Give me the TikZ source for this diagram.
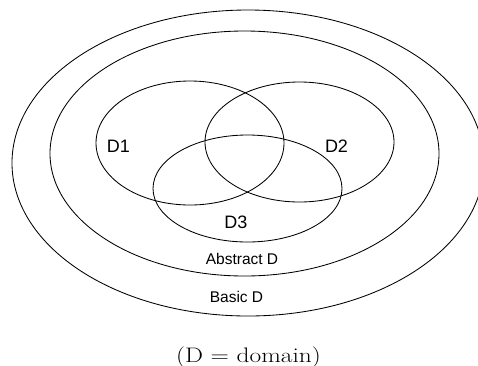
\documentclass[tikz,border=0pt]{standalone}
\usepackage{fontspec}
\newfontfamily\arialf{Liberation Sans}
\usetikzlibrary{shapes.geometric}
\begin{document}
\begin{tikzpicture}[x=1pt,y=-1pt,
  ring/.style={draw, ellipse, line width=0.85pt, inner sep=0pt},
  biglabel/.style={anchor=base, inner sep=0pt, font=\arialf\fontsize{18}{20}\selectfont},
  smalllabel/.style={anchor=base, inner sep=0pt, font=\arialf\fontsize{15.5}{18}\selectfont}]
\useasboundingbox (0,0) rectangle (478,365);
\node[ring, minimum width=472pt, minimum height=306pt] (basic) at (248,163) {};
\node[ring, minimum width=389pt, minimum height=245pt] (abstract) at (244.5,153.5) {};
\node[ring, minimum width=188pt, minimum height=124pt] (d1) at (190,143) {};
\node[ring, minimum width=189pt, minimum height=120pt] (d2) at (299.5,142) {};
\node[ring, minimum width=189pt, minimum height=107pt] (d3) at (247.5,188.5) {};
\node[biglabel] (l1) at (118.5,152) {D1};
\node[biglabel] (l2) at (336.5,152) {D2};
\node[biglabel] (l3) at (236,228) {D3};
\node[smalllabel] (la) at (242,264) {Abstract D};
\node[smalllabel] (lb) at (236.5,302) {Basic D};
\node[anchor=base, inner sep=0pt, font=\fontsize{21}{24}\selectfont] (cap) at (248.5,362) {\scalebox{1.21}[1]{(D = domain)}};
\end{tikzpicture}
\end{document}
